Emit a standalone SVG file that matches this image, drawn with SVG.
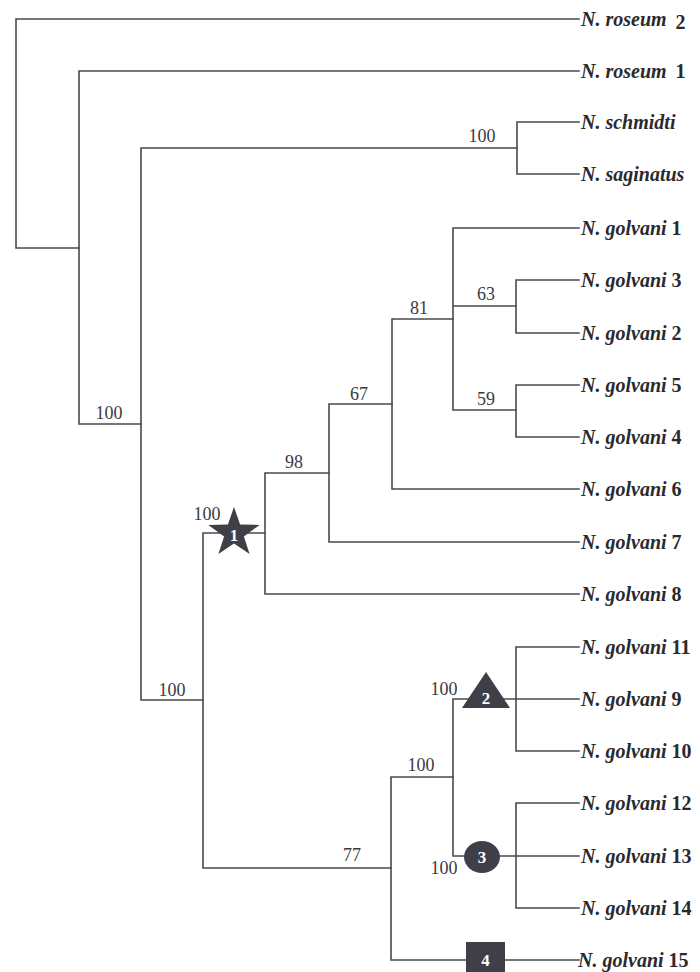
<svg xmlns="http://www.w3.org/2000/svg" width="700" height="972" viewBox="0 0 700 972">
<style>
.e{fill:none;stroke:#4a4a4f;stroke-width:1.6;stroke-linecap:square}
.t{font-family:"Liberation Serif","Times New Roman",serif;font-size:20px;font-weight:bold;font-style:italic;fill:#2a2a2e}
.n{font-style:normal}
.s{font-family:"Liberation Serif","Times New Roman",serif;font-size:18px;fill:#3a3a3e;text-anchor:middle}
.m{fill:#3f3f47}
.w{font-family:"Liberation Serif","Times New Roman",serif;font-size:17px;font-weight:bold;fill:#ffffff;text-anchor:middle}
</style>
<rect width="700" height="972" fill="#ffffff"/>
<g id="connectors">
<path class="e" d="M16,19 V248 M16,19 H579 M16,248 H79"/>
<path class="e" d="M79,71 V424 M79,71 H579 M79,424 H141"/>
<path class="e" d="M141,148 V700 M141,148 H517 M141,700 H203"/>
<path class="e" d="M517,122 V174 M517,122 H579 M517,174 H579"/>
<path class="e" d="M203,533 V868 M203,533 H265 M203,868 H391"/>
<path class="e" d="M265,473 V594 M265,473 H329 M265,594 H579"/>
<path class="e" d="M329,404 V542 M329,404 H392 M329,542 H579"/>
<path class="e" d="M392,319 V489 M392,319 H453 M392,489 H579"/>
<path class="e" d="M453,228 V410 M453,228 H579 M453,306 H516 M453,410 H516"/>
<path class="e" d="M516,280 V333 M516,280 H579 M516,333 H579"/>
<path class="e" d="M516,385 V437 M516,385 H579 M516,437 H579"/>
<path class="e" d="M391,777 V960 M391,777 H453 M391,960 H579"/>
<path class="e" d="M453,699 V856 M453,699 H579 M453,856 H579"/>
<path class="e" d="M516,647 V751 M516,647 H579 M516,751 H579"/>
<path class="e" d="M516,803 V908 M516,803 H579 M516,908 H579"/>
</g>
<g id="support">
<text class="s" x="482" y="142">100</text>
<text class="s" x="486" y="300">63</text>
<text class="s" x="486" y="405">59</text>
<text class="s" x="419" y="314">81</text>
<text class="s" x="359" y="400">67</text>
<text class="s" x="294" y="468">98</text>
<text class="s" x="207" y="520">100</text>
<text class="s" x="172" y="696">100</text>
<text class="s" x="109" y="419">100</text>
<text class="s" x="421" y="771">100</text>
<text class="s" x="352" y="861">77</text>
<text class="s" x="444" y="695">100</text>
<text class="s" x="444" y="874">100</text>
</g>
<g id="mark1"><polygon class="m" points="234,507 240.1,524.6 259.7,524.9 243.9,536.4 249.6,554.1 234,543.6 218.4,554.1 224.1,536.4 208.3,524.9 227.9,524.6"/><text class="w" x="234" y="541">1</text></g>
<g id="mark2"><polygon class="m" points="486,672 510,708 462,708"/><text class="w" x="486" y="704">2</text></g>
<g id="mark3"><ellipse class="m" cx="482" cy="857" rx="18" ry="16"/><text class="w" x="482" y="863">3</text></g>
<g id="mark4"><rect class="m" x="466" y="942" width="39" height="32"/><text class="w" x="485.5" y="966">4</text></g>
<g id="taxa">
<g id="roseum2"><text class="t" x="581" y="26">N. roseum <tspan class="n" dx="4" dy="3">2</tspan></text></g>
<g id="roseum1"><text class="t" x="581" y="78">N. roseum <tspan class="n" dx="4">1</tspan></text></g>
<g id="schmidti"><text class="t" x="581" y="129">N. schmidti</text></g>
<g id="saginatus"><text class="t" x="581" y="181">N. saginatus</text></g>
<g id="golvani1"><text class="t" x="581" y="235">N. golvani <tspan class="n">1</tspan></text></g>
<g id="golvani3"><text class="t" x="581" y="287">N. golvani <tspan class="n">3</tspan></text></g>
<g id="golvani2"><text class="t" x="581" y="340">N. golvani <tspan class="n">2</tspan></text></g>
<g id="golvani5"><text class="t" x="581" y="392">N. golvani <tspan class="n">5</tspan></text></g>
<g id="golvani4"><text class="t" x="581" y="444">N. golvani <tspan class="n">4</tspan></text></g>
<g id="golvani6"><text class="t" x="581" y="496">N. golvani <tspan class="n">6</tspan></text></g>
<g id="golvani7"><text class="t" x="581" y="549">N. golvani <tspan class="n">7</tspan></text></g>
<g id="golvani8"><text class="t" x="581" y="601">N. golvani <tspan class="n">8</tspan></text></g>
<g id="golvani11"><text class="t" x="581" y="654">N. golvani <tspan class="n">11</tspan></text></g>
<g id="golvani9"><text class="t" x="581" y="706">N. golvani <tspan class="n">9</tspan></text></g>
<g id="golvani10"><text class="t" x="581" y="758">N. golvani <tspan class="n">10</tspan></text></g>
<g id="golvani12"><text class="t" x="581" y="810">N. golvani <tspan class="n">12</tspan></text></g>
<g id="golvani13"><text class="t" x="581" y="863">N. golvani <tspan class="n">13</tspan></text></g>
<g id="golvani14"><text class="t" x="581" y="915">N. golvani <tspan class="n">14</tspan></text></g>
<g id="golvani15"><text class="t" x="578" y="967">N. golvani <tspan class="n">15</tspan></text></g>
</g>
</svg>
